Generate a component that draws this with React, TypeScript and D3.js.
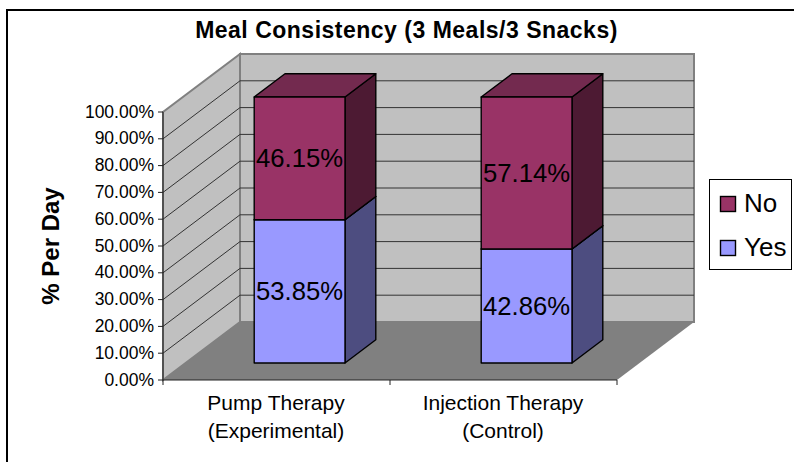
import React from "react";
import * as d3 from "d3";

const title = "Meal Consistency (3 Meals/3 Snacks)";
const yTitle = "% Per Day";
const categories = ["Pump Therapy|(Experimental)", "Injection Therapy|(Control)"];
const yesValues = [0.5385, 0.4286];
const noValues = [0.4615, 0.5714];
const ticks = [0, 0.1, 0.2, 0.3, 0.4, 0.5, 0.6, 0.7, 0.8, 0.9, 1];
const seriesNames = ["Yes", "No"];
const fmt = d3.format(".2%");

const FONT = "'Liberation Sans', Arial, sans-serif";
const x = d3.scaleBand<string>().domain(categories).range([163, 617]).paddingInner(0.6).paddingOuter(0.3);
const y = d3.scaleLinear().domain([0, 1]).range([380, 112]);
const yBar = d3.scaleLinear().domain([0, 1]).range([363, 97]);
const DX = 77, DY = -58;
const D0 = 0.3, D1 = 0.7;
const px = (xv: number, d: number) => xv + d * DX;
const py = (v: number, d: number) => y(v) + d * DY;
const by0 = (v: number) => yBar(v);
const by1 = (v: number) => yBar(v) + (D1 - D0) * DY;
const poly = (pts: [number, number][]) => d3.line()(pts)! + "Z";

const colors: Record<string, string[]> = {
  Yes: ["#9999ff", "#7a7acc", "#4d4d80"],
  No: ["#993366", "#732a4f", "#4d1a33"],
};

function Bar({ cat, i }: { cat: string; i: number }) {
  const l = x(cat)!;
  const r = l + x.bandwidth();
  const stacks = [
    { name: seriesNames[0], from: 0, to: yesValues[i] },
    { name: seriesNames[1], from: yesValues[i], to: yesValues[i] + noValues[i] },
  ];
  return (
    <g stroke="#000" strokeWidth={1.4} strokeLinejoin="round">
      {stacks.map((s) => (
        <g key={s.name}>
          <path fill={colors[s.name][2]} d={poly([[px(r, D0), by0(s.from)], [px(r, D1), by1(s.from)], [px(r, D1), by1(s.to)], [px(r, D0), by0(s.to)]])} />
          <path fill={colors[s.name][1]} d={poly([[px(l, D0), by0(s.to)], [px(l, D1), by1(s.to)], [px(r, D1), by1(s.to)], [px(r, D0), by0(s.to)]])} />
          <path fill={colors[s.name][0]} d={poly([[px(l, D0), by0(s.from)], [px(r, D0), by0(s.from)], [px(r, D0), by0(s.to)], [px(l, D0), by0(s.to)]])} />
        </g>
      ))}
      {stacks.map((s, k) => (
        <text key={k} x={px((l + r) / 2, D0)} y={by0((s.from + s.to) / 2) + 9} textAnchor="middle" fontSize={25.7} fill="#000" stroke="none" fontFamily={FONT}>
          {fmt(k === 0 ? yesValues[i] : noValues[i])}
        </text>
      ))}
    </g>
  );
}

export default function App() {
  const [x0, x1] = x.range();
  return (
    <svg width={794} height={462} style={{ position: "absolute", left: 0, top: 0, background: "#fff" }} fontFamily={FONT}>
      <path d="M7,462V10H794" fill="none" stroke="#000" strokeWidth={2} />
      <text x={406.5} y={38} textAnchor="middle" fontSize={23} fontWeight="bold" letterSpacing={0.5}>{title}</text>
      <path d={poly([[px(x0, 1), py(0, 1)], [px(x1, 1), py(0, 1)], [px(x1, 1), py(1, 1)], [px(x0, 1), py(1, 1)]])} fill="#c0c0c0" stroke="#808080" strokeWidth={2} />
      <path d={poly([[px(x0, 0), py(0, 0)], [px(x0, 1), py(0, 1)], [px(x0, 1), py(1, 1)], [px(x0, 0), py(1, 0)]])} fill="#c0c0c0" stroke="#808080" strokeWidth={2} />
      <path d={poly([[px(x0, 0), py(0, 0)], [px(x1, 0), py(0, 0)], [px(x1, 1), py(0, 1)], [px(x0, 1), py(0, 1)]])} fill="#808080" stroke="none" />
      {ticks.slice(1, -1).map((t) => (
        <path key={t} d={`M${px(x0, 0)},${py(t, 0)}L${px(x0, 1)},${py(t, 1)}L${px(x1, 1)},${py(t, 1)}`} fill="none" stroke="#333" strokeWidth={1} />
      ))}
      <path d={`M${x0},${y(1)}V${y(0)}H${x1}`} fill="none" stroke="#222" strokeWidth={1} />
      {ticks.map((t) => (
        <g key={t}>
          <line x1={x0 - 5} x2={x0} y1={y(t)} y2={y(t)} stroke="#222" />
          <text x={x0 - 9} y={y(t) + 5.5} textAnchor="end" fontSize={17.5}>{fmt(t)}</text>
        </g>
      ))}
      {[x0, (x0 + x1) / 2, x1].map((v) => (
        <line key={v} x1={v} x2={v} y1={y(0)} y2={y(0) + 5} stroke="#222" />
      ))}
      {categories.map((c) => {
        const [a, b] = c.split("|");
        const cx = x(c)! + x.bandwidth() / 2 - 0.5;
        return (
          <g key={c}>
            <text x={cx} y={410} textAnchor="middle" fontSize={21}>{a}</text>
            <text x={cx} y={438} textAnchor="middle" fontSize={21}>{b}</text>
          </g>
        );
      })}
      <text transform="translate(58.5,246) rotate(-90)" textAnchor="middle" fontSize={24} fontWeight="bold">{yTitle}</text>
      {categories.map((c, i) => <Bar key={c} cat={c} i={i} />)}
      <rect x={709.5} y={179.5} width={82} height={90} fill="#fff" stroke="#000" strokeWidth={1} />
      {[seriesNames[1], seriesNames[0]].map((n, i) => (
        <g key={n}>
          <rect x={720.5} y={196.5 + i * 44} width={15} height={15} fill={colors[n][0]} stroke="#000" strokeWidth={1.4} />
          <text x={744} y={212 + i * 43.5} fontSize={26}>{n}</text>
        </g>
      ))}
    </svg>
  );
}
